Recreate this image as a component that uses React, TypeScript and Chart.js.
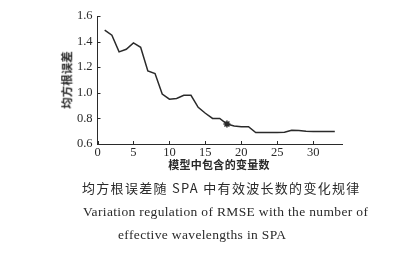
import React, { useEffect, useRef } from "react";
import { Chart, registerables } from "chart.js";

Chart.register(...registerables);

const variableCounts = [1,2,3,4,5,6,7,8,9,10,11,12,13,14,15,16,17,18,19,20,21,22,23,24,25,26,27,28,29,30,31,32,33];
const rmseValues = [1.49,1.45,1.32,1.34,1.39,1.355,1.17,1.15,0.99,0.95,0.955,0.98,0.98,0.887,0.84,0.80,0.80,0.756,0.74,0.735,0.735,0.69,0.69,0.69,0.69,0.692,0.707,0.705,0.70,0.697,0.697,0.698,0.698];
const bestIndex = 17;
const xTicks = [0, 5, 10, 15, 20, 25, 30];
const yTicks = [0.6, 0.8, 1.0, 1.2, 1.4, 1.6];

const yTitle = "均方根误差";
const xTitle = "模型中包含的变量数";
const captionCn = "均方根误差随 SPA 中有效波长数的变化规律";
const captionEn1 = "Variation regulation of RMSE with the number of";
const captionEn2 = "effective wavelengths in SPA";

const INK = "#2a2a2a";

const inwardTicks = {
  id: "inwardTicks",
  afterDraw(chart: any) {
    const ctx = chart.ctx;
    const xs = chart.scales.x;
    const ys = chart.scales.y;
    const area = chart.chartArea;
    ctx.save();
    ctx.strokeStyle = INK;
    ctx.lineWidth = 1;
    ctx.beginPath();
    xTicks.forEach((v) => {
      const px = Math.round(xs.getPixelForValue(v)) + 0.5;
      ctx.moveTo(px, area.bottom);
      ctx.lineTo(px, area.bottom - 3);
    });
    yTicks.forEach((v) => {
      const py = Math.round(ys.getPixelForValue(v)) + 0.5;
      ctx.moveTo(area.left, py);
      ctx.lineTo(area.left + 3, py);
    });
    ctx.stroke();
    ctx.restore();
  },
};

export default function App() {
  const ref = useRef<HTMLCanvasElement>(null);
  useEffect(() => {
    const chart = new Chart(ref.current!, {
      type: "line",
      data: {
        labels: variableCounts,
        datasets: [
          {
            data: variableCounts.map((x, i) => ({ x, y: rmseValues[i] })),
            borderColor: INK,
            borderWidth: 1.5,
            tension: 0,
            pointStyle: "star",
            pointRadius: (c: any) => (c.dataIndex === bestIndex ? 3.5 : 0),
            pointBorderColor: INK,
            pointBorderWidth: 1.5,
            fill: false,
          },
        ],
      },
      options: {
        animation: false,
        responsive: false,
        events: [],
        layout: { padding: { left: 0, right: 59, top: 16, bottom: 89 } },
        plugins: { legend: { display: false }, tooltip: { enabled: false } },
        scales: {
          x: {
            type: "linear",
            min: 0,
            max: 34,
            afterFit: (s: any) => { s.height = 20; },
            afterBuildTicks: (s: any) => { s.ticks = xTicks.map((v) => ({ value: v })); },
            ticks: {
              includeBounds: false,
              padding: 1,
              color: INK,
              font: { family: "'Liberation Serif', 'Times New Roman', serif", size: 12.5 },
              maxRotation: 0,
            },
            grid: { display: false, drawTicks: false },
            border: { display: true, color: INK, width: 1 },
          },
          y: {
            type: "linear",
            min: 0.6,
            max: 1.6,
            afterFit: (s: any) => { s.width = 97.5; },
            afterBuildTicks: (s: any) => { s.ticks = yTicks.map((v) => ({ value: v })); },
            ticks: {
              padding: 5,
              color: INK,
              font: { family: "'Liberation Serif', 'Times New Roman', serif", size: 12.5 },
              callback: (v: any) => Number(v).toFixed(1),
            },
            grid: { display: false, drawTicks: false },
            border: { display: true, color: INK, width: 1 },
          },
        },
      },
      plugins: [inwardTicks],
    } as any);
    return () => chart.destroy();
  }, []);

  const base: React.CSSProperties = { position: "absolute", color: INK, whiteSpace: "nowrap", lineHeight: 1 };
  return (
    <div style={{ position: "fixed", left: 0, top: 0, width: 401, height: 253, background: "#fff" }}>
      <canvas ref={ref} width={401} height={253} style={{ position: "absolute", left: 0, top: 0 }} />
      <div
        style={{
          ...base,
          left: 67,
          top: 80,
          transform: "translate(-50%, -50%) rotate(-90deg)",
          fontFamily: "'Noto Sans CJK SC', sans-serif",
          fontSize: 11.5,
          fontWeight: 700,
        }}
      >
        {yTitle}
      </div>
      <div
        style={{
          ...base,
          left: 219,
          top: 164,
          transform: "translate(-50%, -50%)",
          fontFamily: "'Noto Sans CJK SC', sans-serif",
          fontSize: 11,
          fontWeight: 700,
          letterSpacing: 0.3,
        }}
      >
        {xTitle}
      </div>
      <div
        style={{
          ...base,
          left: 82,
          top: 187,
          transform: "translateY(-50%)",
          fontFamily: "'Noto Sans CJK SC', sans-serif",
          fontSize: 13,
          letterSpacing: 1.3,
        }}
      >
        {captionCn}
      </div>
      <div
        style={{
          ...base,
          left: 83,
          top: 212,
          transform: "translateY(-50%)",
          fontFamily: "'Liberation Serif', serif",
          fontSize: 13.5,
          letterSpacing: 0.35,
        }}
      >
        {captionEn1}
      </div>
      <div
        style={{
          ...base,
          left: 118,
          top: 235,
          transform: "translateY(-50%)",
          fontFamily: "'Liberation Serif', serif",
          fontSize: 13.5,
          letterSpacing: 0.35,
        }}
      >
        {captionEn2}
      </div>
    </div>
  );
}
